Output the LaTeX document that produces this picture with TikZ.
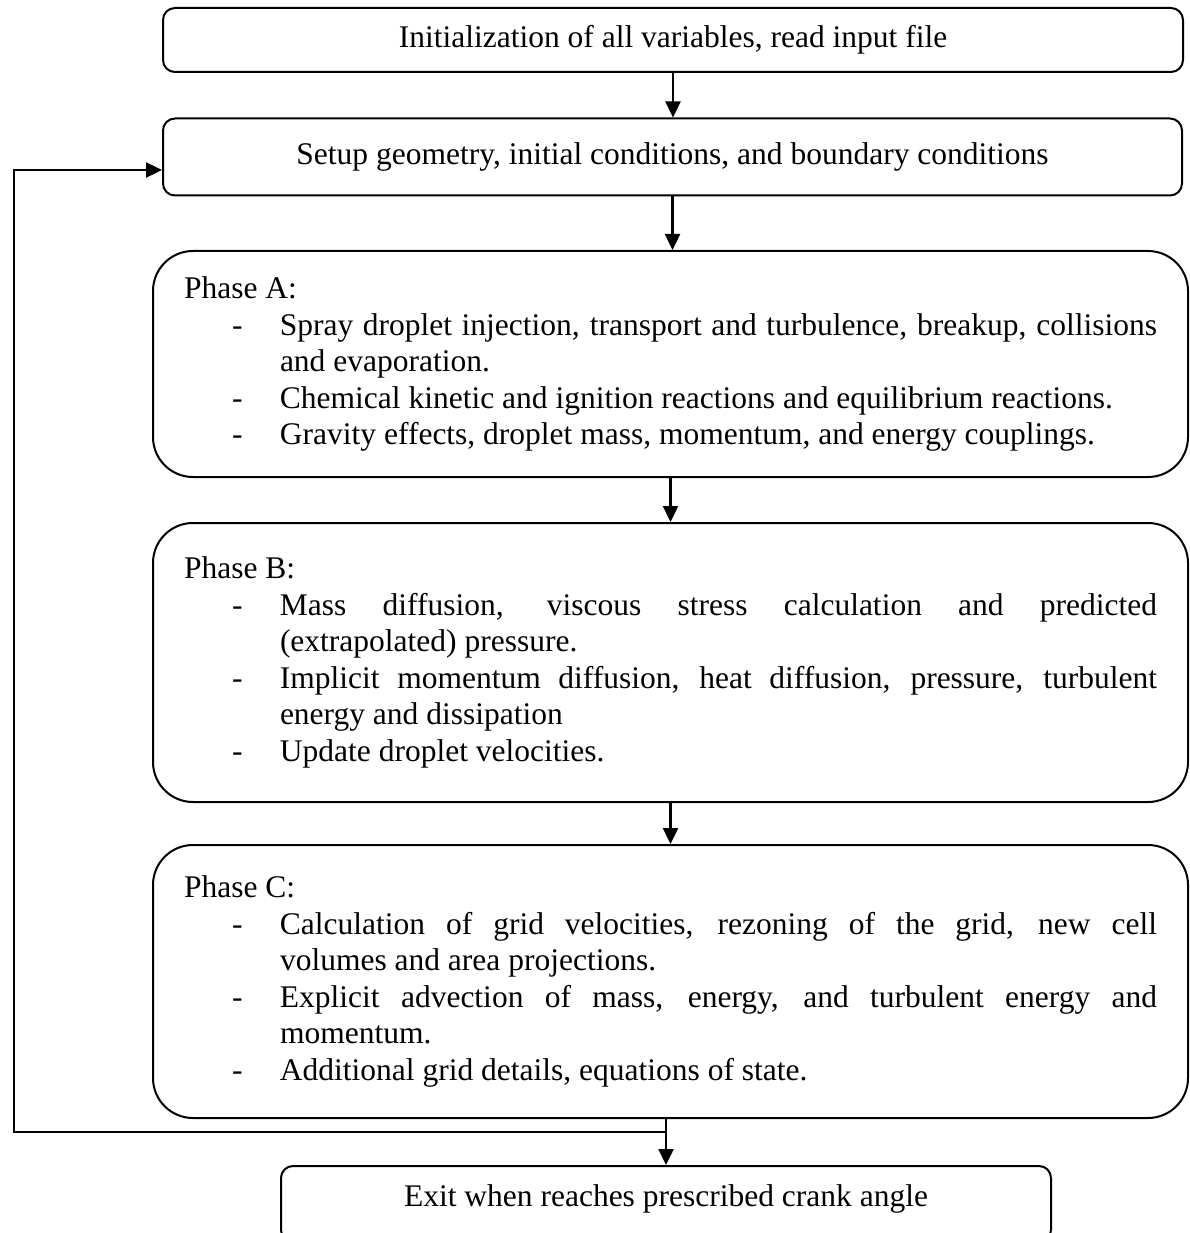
\documentclass[tikz,border=0pt]{standalone}
\usepackage{fontspec}
\setmainfont{Liberation Serif}
\usetikzlibrary{arrows.meta,calc}
\newcommand{\itm}[1]{\par\noindent\hangindent=96pt\hangafter=1\hspace*{48pt}\makebox[48pt][l]{-}#1\par}
\newcommand{\phasesetup}{\hyphenpenalty=10000\relax\tolerance=9999\relax\emergencystretch=40pt\relax\noindent}
\begin{document}
\begin{tikzpicture}[x=1pt,y=-1pt,
  box/.style={draw, line width=2pt, rounded corners=12pt, minimum width=1020pt, inner sep=0pt, font=\fontsize{31.5}{36}\selectfont},
  phase/.style={draw, line width=2pt, rounded corners=40pt, minimum width=1035pt, text width=973pt, inner xsep=31pt, inner ysep=0pt, align=justify, font=\fontsize{31.5}{36.5}\selectfont},
  conn/.style={line width=2.4pt, -{Triangle[length=16pt,width=15pt]}},
]
\clip (0,0) rectangle (1190,1233);
\node[box, minimum height=64pt] (init) at (673,40) {Initialization of all variables, read input file};
\node[box, minimum height=77pt, minimum width=1019pt] (setup) at (672.5,157) {Setup geometry, initial conditions, and boundary conditions};
\node[phase, minimum height=226pt] (pa) at (670.5,364) {\phasesetup Phase A:
\itm{Spray droplet injection, transport and turbulence, breakup, collisions\linebreak and evaporation.}
\itm{Chemical kinetic and ignition reactions and equilibrium reactions.}
\itm{Gravity effects, droplet mass, momentum, and energy couplings.}};
\node[phase, minimum height=279pt] (pb) at (670.5,662.5) {\phasesetup Phase B:
\itm{Mass diffusion, viscous stress calculation and predicted\linebreak (extrapolated) pressure.}
\itm{Implicit momentum diffusion, heat diffusion, pressure, turbulent\linebreak energy and dissipation}
\itm{Update droplet velocities.}};
\node[phase, minimum height=273pt] (pc) at (670.5,981.5) {\phasesetup Phase C:
\itm{Calculation of grid velocities, rezoning of the grid, new cell\linebreak volumes and area projections.}
\itm{Explicit advection of mass, energy, and turbulent energy and\linebreak momentum.}
\itm{Additional grid details, equations of state.}};
\node[box, minimum width=770pt, minimum height=76pt, text depth=17pt] (exit) at (666,1204) {Exit when reaches prescribed crank angle};
\draw[conn] (init.south) -- (init.south |- setup.north);
\draw[conn] (setup.south) -- (setup.south |- pa.north);
\draw[conn] (pa.south) -- (pb.north);
\draw[conn] (pb.south) -- (pc.north);
\draw[conn] (exit.north |- pc.south) -- (exit.north);
\coordinate (jy) at (0,1132);
\coordinate (j) at (exit.north |- jy);
\coordinate (lb) at (14,1132);
\coordinate (lt) at (14,170);
\draw[conn] (j) -- (lb) -- (lt) -- (setup.west |- lt);
\end{tikzpicture}
\end{document}
